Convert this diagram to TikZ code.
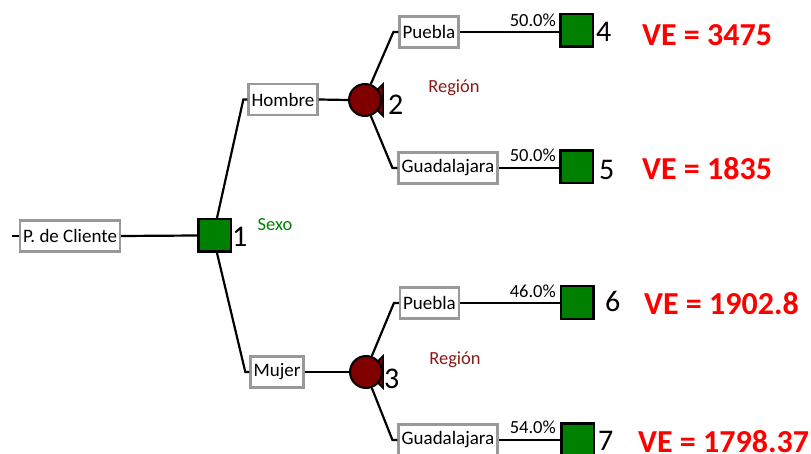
\documentclass[tikz,border=0pt]{standalone}
\usepackage{fontspec}
\setmainfont{Carlito}
\definecolor{boxgray}{HTML}{999999}
\definecolor{decgreen}{HTML}{008000}
\definecolor{chancered}{HTML}{800000}
\definecolor{regred}{HTML}{8B1A1A}
\begin{document}
\begin{tikzpicture}[x=1pt,y=-1pt,
  lbox/.style={draw=boxgray, line width=2.5pt, fill=white, minimum height=31pt, inner xsep=3pt, inner ysep=0pt, font=\fontsize{19}{21}\selectfont},
  decbox/.style={draw=black, line width=2.5pt, fill=decgreen, minimum size=32.5pt, inner sep=0pt},
  chance/.style={circle, draw=black, line width=2pt, fill=chancered, minimum size=32pt, inner sep=0pt},
  num/.style={font=\fontsize{30}{32}\selectfont, anchor=base west, inner sep=0pt},
  ve/.style={text=red, font=\bfseries\fontsize{32}{34}\selectfont, anchor=base west, inner sep=0pt},
  pct/.style={font=\fontsize{18.5}{20}\selectfont, anchor=base east, inner sep=0pt},
  note/.style={font=\fontsize{18.5}{20}\selectfont, inner sep=0pt},
  conn/.style={line width=2.2pt},
  tri/.style={draw=black, line width=1.5pt, fill=chancered, line join=miter}]
\useasboundingbox (0,0) rectangle (811,454);

% nodes
\node[lbox] (pc) at (70,236) {P. de Cliente};
\coordinate (tick) at (12,236);
\node[decbox] (s1) at (214.5,235.5) {};
\node[num] (n1) at (232,247) {1};
\node[note, text=decgreen] (sexo) at (275,225) {Sexo};

\node[lbox] (hom) at (283,99.5) {Hombre};
\node[lbox] (muj) at (277,372) {Mujer};

\filldraw[tri] (383,84) -- (383,116) -- (367,100) -- cycle;
\filldraw[tri] (383,356) -- (383,388) -- (367,372) -- cycle;
\node[chance] (c2) at (365,100) {};
\node[chance] (c3) at (366,372) {};
\node[num] (n2) at (388,115) {2};
\node[num] (n3) at (384,388) {3};
\node[note, text=regred] (reg2) at (454,88) {Región};
\node[note, text=regred] (reg3) at (455,360) {Región};

\node[lbox] (pu1) at (429,32) {Puebla};
\node[lbox] (gu1) at (448,168) {Guadalajara};
\node[lbox] (pu2) at (429.5,303) {Puebla};
\node[lbox] (gu2) at (448,440) {Guadalajara};

\node[decbox] (s4) at (576.5,30.5) {};
\node[decbox] (s5) at (576.5,167) {};
\node[decbox] (s6) at (577,302.5) {};
\node[decbox] (s7) at (577.5,439.5) {};

\node[pct] (p4) at (556,27) {50.0\%};
\node[pct] (p5) at (556,162) {50.0\%};
\node[pct] (p6) at (556,298) {46.0\%};
\node[pct] (p7) at (556,433) {54.0\%};

\node[num] (n4) at (596,42) {4};
\node[num] (n5) at (599,180) {5};
\node[num] (n6) at (605,312) {6};
\node[num] (n7) at (598,450) {7};

\node[ve] (ve4) at (642,46) {VE = 3475};
\node[ve] (ve5) at (642,180) {VE = 1835};
\node[ve] (ve6) at (644,315) {VE = 1902.8};
\node[ve] (ve7) at (638,452) {VE = 1798.37};

% connectors
\draw[conn] (tick) -- (pc.west);
\draw[conn] (pc.east) -- (s1.west);
\draw[conn] ([xshift=2.5pt]s1.north) -- ([xshift=-4pt]hom.west) -- (hom.west);
\draw[conn] ([xshift=2.5pt]s1.south) -- ([xshift=-4pt]muj.west) -- (muj.west);
\draw[conn] (hom.east) -- (c2.west);
\draw[conn] (muj.east) -- (c3.west);
\draw[conn] (c2.70) -- ([xshift=-5pt]pu1.west) -- (pu1.west);
\draw[conn] (c2.-70) -- ([xshift=-5pt]gu1.west) -- (gu1.west);
\draw[conn] (c3.70) -- ([xshift=-5pt]pu2.west) -- (pu2.west);
\draw[conn] (c3.-70) -- ([xshift=-5pt]gu2.west) -- (gu2.west);
\draw[conn] (pu1.east) -- (s4.west |- pu1.east);
\draw[conn] (gu1.east) -- (s5.west |- gu1.east);
\draw[conn] (pu2.east) -- (s6.west |- pu2.east);
\draw[conn] (gu2.east) -- (s7.west |- gu2.east);
\end{tikzpicture}
\end{document}
